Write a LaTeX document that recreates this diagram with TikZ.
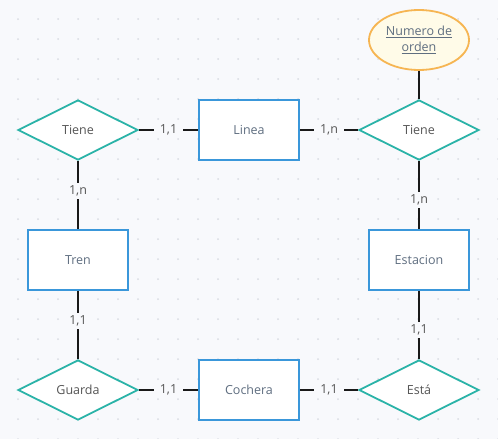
\documentclass[tikz,border=0pt]{standalone}
\usepackage{fontspec}
\setmainfont{Open Sans}
\usetikzlibrary{shapes.geometric}
\definecolor{bgc}{HTML}{F8F9FC}
\definecolor{dotc}{HTML}{D9DCE3}
\definecolor{teal}{HTML}{2BB3A8}
\definecolor{bluec}{HTML}{3A97DA}
\definecolor{txtr}{HTML}{5F6E80}
\definecolor{txtd}{HTML}{555555}
\definecolor{orng}{HTML}{F6B552}
\definecolor{ylw}{HTML}{FFFBE8}
\tikzset{
  rel/.style={shape=diamond, draw=teal, line width=1.8pt, fill=white, minimum width=120pt, minimum height=60pt, inner sep=0pt, text=txtd, font=\fontsize{12.5}{15}\selectfont},
  ent/.style={shape=rectangle, draw=bluec, line width=1.8pt, fill=white, minimum width=100pt, minimum height=60pt, inner sep=0pt, text=txtr, font=\fontsize{12.5}{15}\selectfont},
  attr/.style={shape=ellipse, draw=orng, line width=1.8pt, fill=ylw, minimum width=100pt, minimum height=60pt, inner sep=0pt, text=txtr, align=center, font=\fontsize{12.5}{16}\selectfont},
  conn/.style={draw=black!90, line width=1.8pt},
  lab/.style={fill=bgc, text=txtd, inner xsep=6pt, inner ysep=3pt, font=\fontsize{12.5}{15}\selectfont}
}
\begin{document}
\begin{tikzpicture}[x=1pt,y=-1pt]
\fill[bgc] (0,0) rectangle (498,439);
\useasboundingbox (0,0) rectangle (498,439);
\foreach \i in {0,...,24}{\foreach \j in {0,...,21}{\fill[dotc] (18+20*\i,19+20*\j) circle (1pt);}}
\node[rel] (t1) at (78,130) {Tiene};
\node[ent] (linea) at (249,130) {Linea};
\node[rel] (t2) at (419,130) {Tiene};
\node[attr] (num) at (419,40) {\underline{Numero de}\\\underline{orden}};
\node[ent] (tren) at (78,260) {Tren};
\node[ent] (est) at (419,260) {Estacion};
\node[rel] (guarda) at (78,390) {Guarda};
\node[ent] (coch) at (249,390) {Cochera};
\node[rel] (esta) at (419,390) {Está};
\draw[conn] (num) -- (t2);
\draw[conn] (t1) -- node[lab]{1,1} (linea);
\draw[conn] (linea) -- node[lab]{1,n} (t2);
\draw[conn] (t1) -- node[lab, pos=0.44]{1,n} (tren);
\draw[conn] (t2) -- node[lab, pos=0.57]{1,n} (est);
\draw[conn] (tren) -- node[lab, pos=0.44]{1,1} (guarda);
\draw[conn] (est) -- node[lab, pos=0.57]{1,1} (esta);
\draw[conn] (guarda) -- node[lab]{1,1} (coch);
\draw[conn] (coch) -- node[lab]{1,1} (esta);
\end{tikzpicture}
\end{document}
